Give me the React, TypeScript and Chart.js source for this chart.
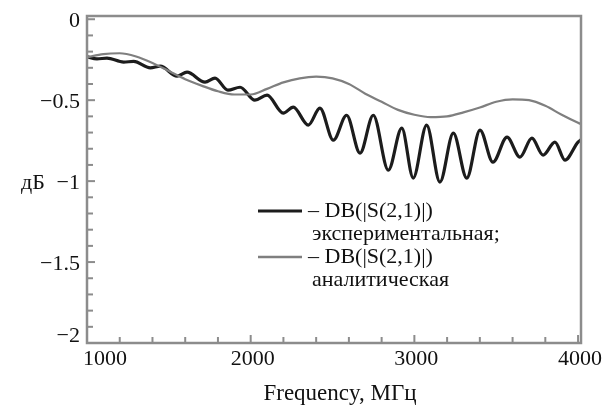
import React, { useEffect, useRef } from "react";
import { Chart, registerables } from "chart.js";

Chart.register(...registerables);

// ---- data ----
const freqExp = [
  1000, 1061, 1122, 1224, 1285, 1387, 1448, 1550, 1611, 1721, 1782, 1861, 1935,
  2026, 2100, 2199, 2260, 2352, 2423, 2505, 2586, 2668, 2749, 2841, 2923, 2993,
  3075, 3156, 3238, 3320, 3401, 3480, 3566, 3645, 3718, 3786, 3859, 3920, 4000,
  4018,
];
const dbExp = [
  -0.232, -0.245, -0.24, -0.265, -0.26, -0.3, -0.29, -0.352, -0.327, -0.389,
  -0.364, -0.438, -0.42, -0.5, -0.469, -0.58, -0.543, -0.654, -0.549, -0.747,
  -0.593, -0.827, -0.593, -0.932, -0.673, -0.981, -0.654, -1.006, -0.704,
  -0.981, -0.685, -0.883, -0.728, -0.852, -0.735, -0.84, -0.759, -0.87, -0.759,
  -0.745,
];

const freqAn = [
  1000, 1100, 1200, 1300, 1400, 1500, 1600, 1700, 1800, 1900, 2000, 2100, 2200,
  2300, 2400, 2500, 2600, 2700, 2800, 2900, 3000, 3100, 3200, 3300, 3400, 3500,
  3600, 3700, 3800, 3900, 4000, 4018,
];
const dbAn = [
  -0.235, -0.215, -0.21, -0.23, -0.27, -0.32, -0.37, -0.41, -0.445, -0.465,
  -0.465, -0.43, -0.39, -0.365, -0.355, -0.365, -0.4, -0.46, -0.51, -0.56,
  -0.59, -0.605, -0.6, -0.575, -0.545, -0.51, -0.495, -0.5, -0.535, -0.59,
  -0.64, -0.648,
];

const xTicks = [1000, 2000, 3000, 4000];
const xTickLabels = ["1000", "2000", "3000", "4000"];
const yTicks = [0, -0.5, -1, -1.5, -2];
const yTickLabels = ["0", "\u22120.5", "\u22121", "\u22121.5", "\u22122"];
const xMinorStep = 200;
const yMinorStep = 0.1;

const xTitle = "Frequency, МГц";
const yTitle = "дБ";
const legendLines = [
  ["\u2013 DB(|S(2,1)|)", "экспериментальная;"],
  ["\u2013 DB(|S(2,1)|)", "аналитическая"],
];

const X_MIN = 1000;
const X_MAX = 4018;
const Y_MIN = -2;
const Y_MAX = 0.02;

const BLACK = "#1c1c1c";
const GREY = "#7f7f7f";
const FRAME = "#8c8c8c";
const FONT = "22px 'Liberation Serif', 'Times New Roman', serif";
const FONT_T = "23px 'Liberation Serif', 'Times New Roman', serif";

const decorPlugin = {
  id: "decor",
  afterDraw(chart: any) {
    const { ctx, chartArea: a } = chart;
    const xs = chart.scales.x;
    const ys = chart.scales.y;
    ctx.save();

    // minor / major ticks (inside, left and bottom)
    ctx.strokeStyle = FRAME;
    ctx.lineWidth = 2;
    for (let v = X_MIN; v <= 4000 + 1e-6; v += xMinorStep) {
      const px = xs.getPixelForValue(v);
      const len = xTicks.includes(v) ? 8 : 6;
      ctx.beginPath();
      ctx.moveTo(px, a.bottom);
      ctx.lineTo(px, a.bottom - len);
      ctx.stroke();
    }
    for (let i = 0; i <= 20; i++) {
      const v = -i * yMinorStep;
      const py = ys.getPixelForValue(v);
      const len = i % 5 === 0 ? 8 : 6;
      ctx.beginPath();
      ctx.moveTo(a.left, py);
      ctx.lineTo(a.left + len, py);
      ctx.stroke();
    }

    // frame
    ctx.lineWidth = 2.5;
    ctx.strokeRect(a.left, a.top, a.right - a.left, a.bottom - a.top);

    // tick labels
    ctx.fillStyle = "#111";
    ctx.font = FONT;
    ctx.textBaseline = "alphabetic";
    xTicks.forEach((v, i) => {
      const txt = xTickLabels[i];
      const w = ctx.measureText(txt).width;
      let cx = xs.getPixelForValue(v) + 2;
      if (cx - w / 2 < a.left - 4) cx = a.left - 4 + w / 2;
      ctx.textAlign = "center";
      ctx.fillText(txt, cx, a.bottom + 22);
    });
    ctx.textAlign = "right";
    ctx.textBaseline = "middle";
    yTicks.forEach((v, i) => {
      let cy = ys.getPixelForValue(v) + 2;
      if (cy > a.bottom - 7) cy = a.bottom - 7;
      ctx.fillText(yTickLabels[i], a.left - 7, cy);
    });

    // axis titles
    ctx.textAlign = "center";
    ctx.fillText(yTitle, 33, ys.getPixelForValue(-1) + 2);
    ctx.font = FONT_T;
    ctx.textBaseline = "alphabetic";
    ctx.fillText(xTitle, 340, 400);

    // legend
    ctx.font = FONT;
    ctx.textAlign = "left";
    const samples = [
      { color: BLACK, width: 3 },
      { color: GREY, width: 2.5 },
    ];
    legendLines.forEach((lines, k) => {
      const base = 217 + k * 46;
      ctx.strokeStyle = samples[k].color;
      ctx.lineWidth = samples[k].width;
      ctx.beginPath();
      ctx.moveTo(258, base - 6);
      ctx.lineTo(302, base - 6);
      ctx.stroke();
      ctx.fillText(lines[0], 308, base);
      ctx.fillText(lines[1], 312, base + 23);
    });

    ctx.restore();
  },
};

export default function App() {
  const ref = useRef<HTMLCanvasElement | null>(null);
  useEffect(() => {
    if (!ref.current) return;
    const chart = new Chart(ref.current, {
      type: "line",
      data: {
        datasets: [
          {
            label: "analytic",
            data: freqAn.map((f, i) => ({ x: f, y: dbAn[i] })),
            borderColor: GREY,
            borderWidth: 2.2,
            pointRadius: 0,
            cubicInterpolationMode: "monotone",
            fill: false,
          },
          {
            label: "experimental",
            data: freqExp.map((f, i) => ({ x: f, y: dbExp[i] })),
            borderColor: BLACK,
            borderWidth: 3.2,
            pointRadius: 0,
            cubicInterpolationMode: "monotone",
            fill: false,
          },
        ],
      },
      options: {
        animation: false,
        responsive: false,
        devicePixelRatio: 1,
        layout: { padding: { left: 87, right: 23, top: 16, bottom: 66 } },
        plugins: {
          legend: { display: false },
          title: { display: false },
          tooltip: { enabled: false },
        },
        scales: {
          x: { type: "linear", min: X_MIN, max: X_MAX, display: false },
          y: { type: "linear", min: Y_MIN, max: Y_MAX, display: false },
        },
      },
      plugins: [decorPlugin],
    });
    return () => chart.destroy();
  }, []);
  return (
    <div style={{ position: "absolute", left: 0, top: 0, width: 604, height: 409, background: "#fff" }}>
      <canvas ref={ref} width={604} height={409} style={{ display: "block" }} />
    </div>
  );
}
